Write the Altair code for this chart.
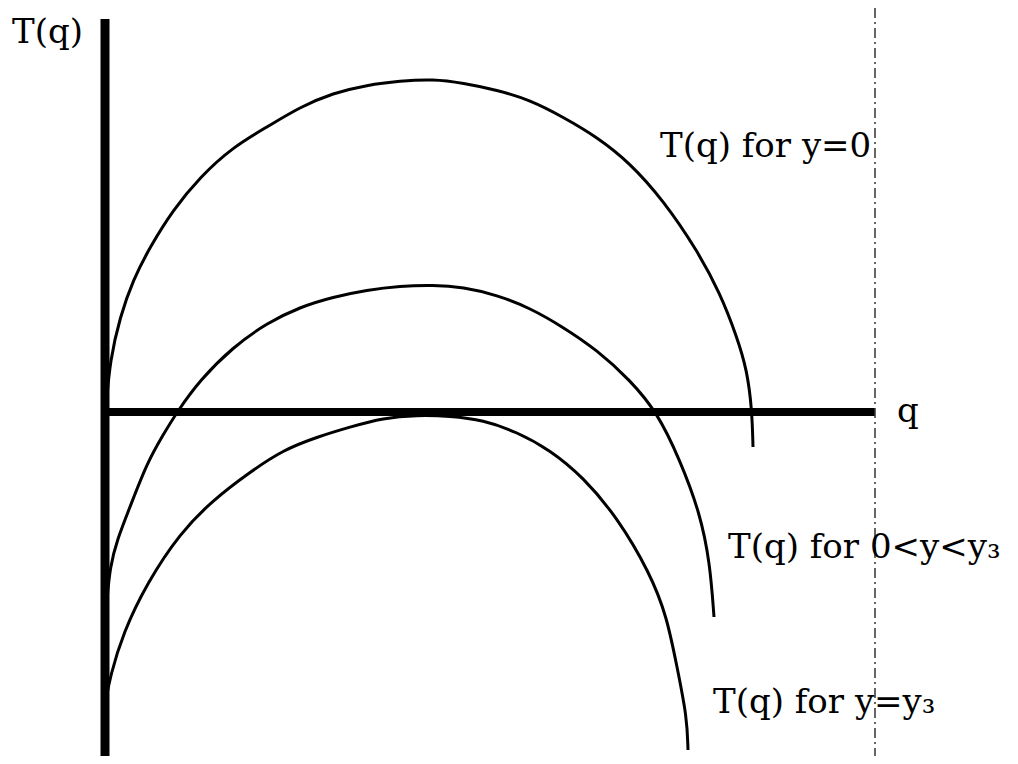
import altair as alt
import pandas as pd

# Curve readings (q, T) with the origin at the axes crossing
c1_q = [1, 5, 15, 28, 45, 68, 95, 128, 162, 195, 228, 262, 295, 328, 358, 392, 425, 458, 492, 525, 558, 592, 615, 632, 642, 647, 648]
c1_T = [4, 52, 95, 132, 165, 202, 235, 265, 285, 305, 319, 327, 331, 333, 329, 322, 312, 295, 275, 249, 212, 162, 119, 75, 42, 2, -35]

c2_q = [2, 5, 12, 25, 42, 58, 72, 95, 128, 162, 195, 228, 262, 295, 328, 358, 392, 425, 458, 492, 525, 552, 575, 595, 605, 609]
c2_T = [-188, -155, -128, -95, -51, -23, 0, 32, 65, 89, 105, 115, 122, 126, 127, 125, 117, 104, 85, 62, 32, 0, -48, -101, -151, -205]

c3_q = [1, 5, 18, 42, 75, 108, 145, 178, 212, 245, 278, 312, 345, 378, 412, 445, 478, 512, 545, 562, 572, 582, 583]
c3_T = [-288, -265, -221, -171, -121, -88, -60, -38, -25, -15, -6, -3, -4, -8, -20, -38, -65, -105, -161, -205, -255, -305, -338]

labels = ["T(q)", "T(q) for y=0", "q", "T(q) for 0<y<y₃", "T(q) for y=y₃"]
label_q = [-93, 555, 792, 623, 608]
label_T = [369, 255, -10, -146, -301]

Q_DOM = [-97, 905]
T_DOM = [-344, 404]

rows = []
for name, qs, ts in (("y=0", c1_q, c1_T), ("0<y<y3", c2_q, c2_T), ("y=y3", c3_q, c3_T)):
    for i, (q, t) in enumerate(zip(qs, ts)):
        rows.append({"curve": name, "i": i, "q": q, "T": t})
curves = pd.DataFrame(rows)

xs = alt.Scale(domain=Q_DOM, nice=False, zero=False)
ys = alt.Scale(domain=T_DOM, nice=False, zero=False)

axes_df = pd.DataFrame({
    "q": [0, 0], "q2": [0, 770],
    "T": [393, 0], "T2": [-344, 0],
    "w": [9, 8],
})
dash_df = pd.DataFrame({"q": [770], "T": [404], "T2": [-344]})
lab_df = pd.DataFrame({"text": labels, "q": label_q, "T": label_T})

axes = alt.Chart(axes_df).mark_rule(color="black", strokeCap="butt").encode(
    x=alt.X("q:Q", scale=xs, axis=None),
    x2="q2:Q",
    y=alt.Y("T:Q", scale=ys, axis=None),
    y2="T2:Q",
    strokeWidth=alt.StrokeWidth("w:Q", scale=None, legend=None),
)

dash = alt.Chart(dash_df).mark_rule(color="#333333", strokeWidth=1.5, strokeDash=[10, 4, 2, 4]).encode(
    x=alt.X("q:Q", scale=xs, axis=None),
    y=alt.Y("T:Q", scale=ys, axis=None),
    y2="T2:Q",
)

lines = alt.Chart(curves).mark_line(color="black", strokeWidth=3, interpolate="basis").encode(
    x=alt.X("q:Q", scale=xs, axis=None),
    y=alt.Y("T:Q", scale=ys, axis=None),
    detail="curve:N",
    order="i:Q",
)

texts = alt.Chart(lab_df).mark_text(
    font="DejaVu Serif", fontSize=34, color="black", align="left", baseline="alphabetic"
).encode(
    x=alt.X("q:Q", scale=xs, axis=None),
    y=alt.Y("T:Q", scale=ys, axis=None),
    text="text:N",
)

chart = alt.layer(axes, dash, lines, texts).properties(
    width=1002, height=748,
    autosize=alt.AutoSizeParams(type="none"),
    padding=0,
).configure_view(stroke=None)

chart.save("out.html", embed_options={"renderer": "svg", "actions": False})
